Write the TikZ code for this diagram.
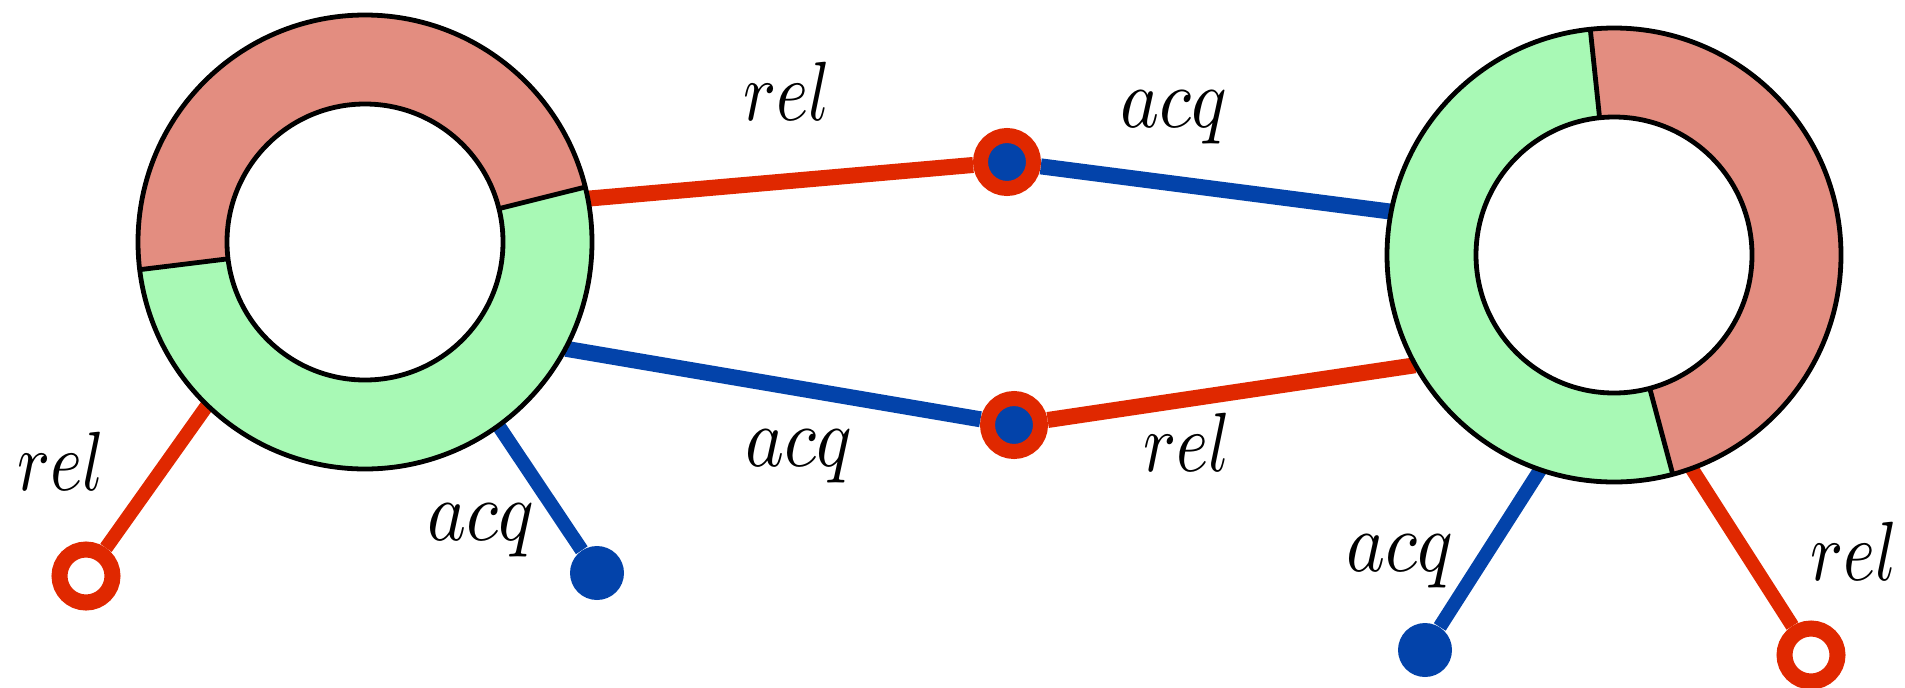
\documentclass[tikz,border=0pt]{standalone}
\usepackage{graphicx}
\definecolor{ringpink}{HTML}{E38D80}
\definecolor{ringgreen}{HTML}{A8F9B5}
\definecolor{linkred}{HTML}{E02800}
\definecolor{linkblue}{HTML}{0343AA}
\newcommand{\rellab}{\scalebox{3.45}[4.2]{$rel$}}
\newcommand{\acqlab}{\scalebox{3.7}[4.25]{$acq$}}
\pgfdeclarelayer{bg}
\pgfsetlayers{bg,main}
\begin{document}
\begin{tikzpicture}[x=0.5pt,y=-0.5pt,
  ring/.style={circle, inner sep=0pt, minimum size=227pt},
  link/.style={line width=8pt},
  tail/.style={line width=7pt},
  relline/.style={link, draw=linkred},
  acqline/.style={link, draw=linkblue},
  reltail/.style={tail, draw=linkred},
  acqtail/.style={tail, draw=linkblue},
  opencap/.style={circle, draw=linkred, line width=8pt, fill=white, inner sep=0pt, minimum size=26.5pt},
  dotcap/.style={circle, fill=linkblue, inner sep=0pt, minimum size=27pt},
  junction/.style={circle, draw=linkred, fill=linkblue, line width=7.5pt, inner sep=0pt, minimum size=26.5pt},
  lab/.style={inner sep=0pt},
  segment/.style={draw=black, line width=2.4pt}
]
\useasboundingbox (0,0) rectangle (1905,687);

% ring placeholders
\node[ring] (L) at (365,242) {};
\node[ring] (R) at (1614,255) {};

% left ring
\begin{scope}[shift={(365,242)}]
  \fill[ringpink] (-14:227) arc[start angle=-14, end angle=-187, radius=227]
    -- (-187:138) arc[start angle=-187, end angle=-14, radius=138] -- cycle;
  \fill[ringgreen] (-187:227) arc[start angle=-187, end angle=-374, radius=227]
    -- (-374:138) arc[start angle=-374, end angle=-187, radius=138] -- cycle;
  \draw[segment] (0,0) circle[radius=227];
  \draw[segment] (0,0) circle[radius=138];
  \draw[segment] (-14:138) -- (-14:227);
  \draw[segment] (-187:138) -- (-187:227);
\end{scope}

% right ring
\begin{scope}[shift={(1614,255)}]
  \fill[ringpink] (75:227) arc[start angle=75, end angle=-96, radius=227]
    -- (-96:138) arc[start angle=-96, end angle=75, radius=138] -- cycle;
  \fill[ringgreen] (-96:227) arc[start angle=-96, end angle=-285, radius=227]
    -- (-285:138) arc[start angle=-285, end angle=-96, radius=138] -- cycle;
  \draw[segment] (0,0) circle[radius=227];
  \draw[segment] (0,0) circle[radius=138];
  \draw[segment] (-96:138) -- (-96:227);
  \draw[segment] (75:138) -- (75:227);
\end{scope}

% junctions and end caps
\node[junction] (J1) at (1007,162) {};
\node[junction] (J2) at (1014,425) {};
\node[opencap] (LO) at (86,576) {};
\node[dotcap] (LD) at (597,573) {};
\node[dotcap] (RD) at (1425,650) {};
\node[opencap] (RO) at (1811,655) {};

% connectors
\begin{pgfonlayer}{bg}
  \draw[relline] (L.11) -- (J1);
  \draw[acqline] (J1) -- (R.169);
  \draw[acqline] (L.-28) -- (J2);
  \draw[relline] (J2) -- (R.209);
  \draw[reltail] (L.-134) -- (LO);
  \draw[acqtail] (L.-54) -- (LD);
  \draw[acqtail] (R.-109) -- (RD);
  \draw[reltail] (R.-70) -- (RO);
\end{pgfonlayer}

% labels
\node[lab] (t1) at (787,91) {\rellab};
\node[lab] (t2) at (1174,117) {\acqlab};
\node[lab] (t3) at (799,456) {\acqlab};
\node[lab] (t4) at (1187,442) {\rellab};
\node[lab] (t5) at (61,461) {\rellab};
\node[lab] (t6) at (481,530) {\acqlab};
\node[lab] (t7) at (1400,561) {\acqlab};
\node[lab] (t8) at (1854,551) {\rellab};
\end{tikzpicture}
\end{document}
